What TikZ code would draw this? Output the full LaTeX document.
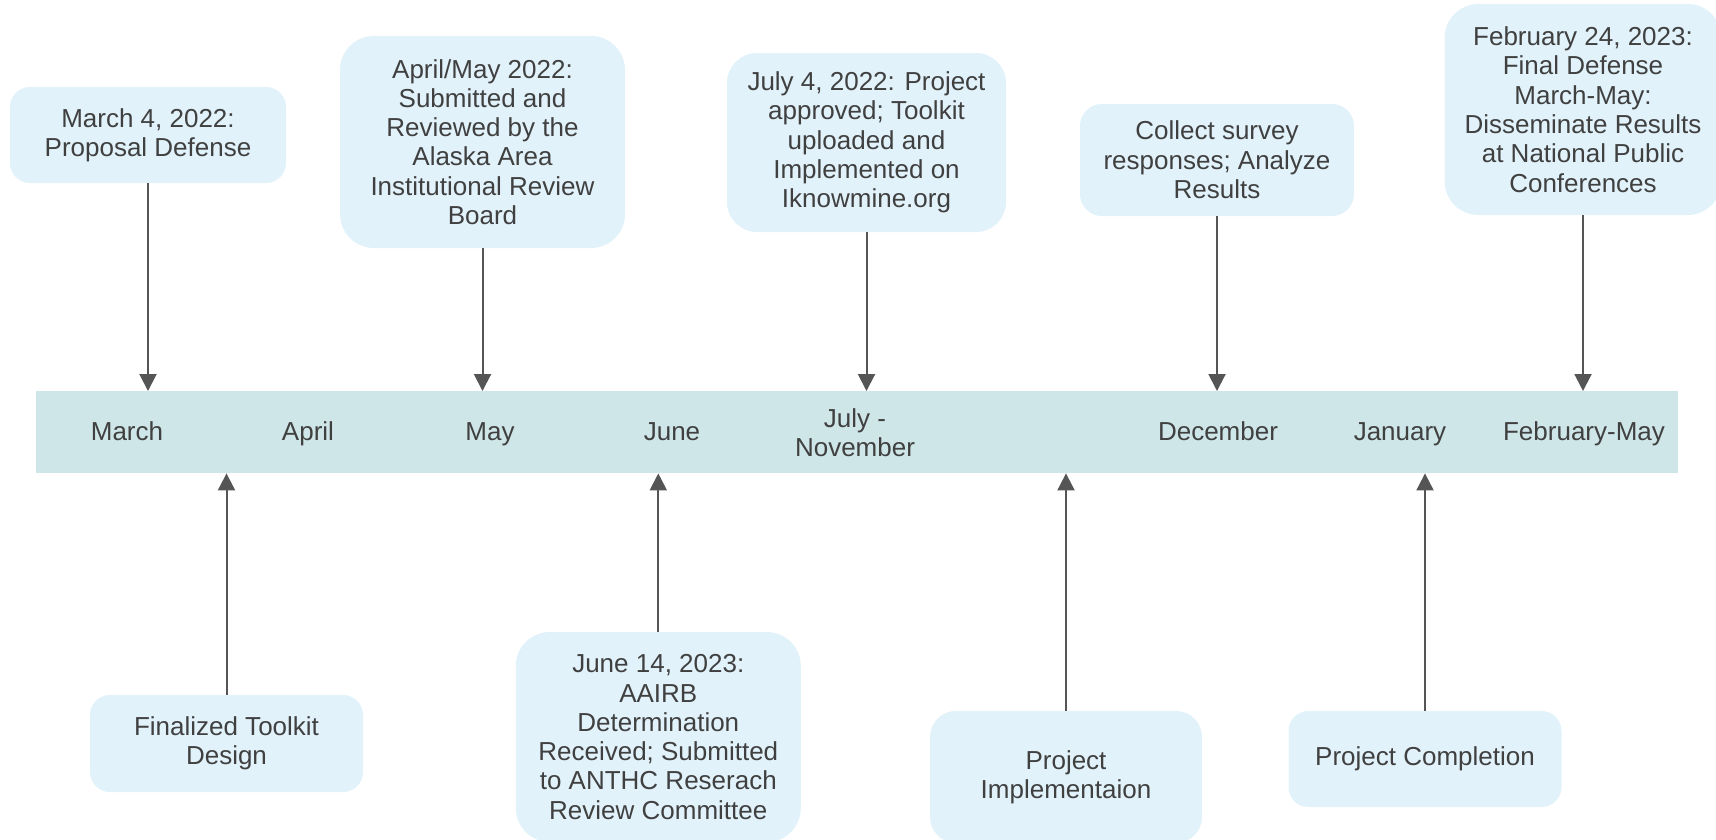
\documentclass[tikz,border=0pt]{standalone}
\usepackage{fontspec}
\setmainfont{Liberation Sans}
\usetikzlibrary{arrows.meta}
\definecolor{barfill}{RGB}{206,230,232}
\definecolor{boxfill}{RGB}{225,242,250}
\definecolor{txt}{RGB}{64,64,64}
\definecolor{arr}{RGB}{85,85,85}
\begin{document}
\begin{tikzpicture}[x=1pt,y=-1pt,
  every node/.style={text=txt,font=\fontsize{26}{29.3}\selectfont},
  evbox/.style={fill=boxfill,draw=none,align=center,inner sep=0pt},
  month/.style={align=center,inner sep=0pt,text height=19pt,text depth=6pt},
  month2/.style={align=center,inner sep=0pt},
  conn/.style={draw=arr,line width=2pt,-{Triangle[length=17pt,width=17pt]}}]
\useasboundingbox (0,0) rectangle (1716,839);
\fill[white] (0,0) rectangle (1716,839);
% timeline bar
\node[fill=barfill,minimum width=1642pt,minimum height=82pt,inner sep=0pt,anchor=north west] (bar) at (36,391) {};
% months
\node[month] (mar) at (127,434) {March};
\node[month] (apr) at (308,434) {April};
\node[month] (may) at (490,434) {May};
\node[month] (jun) at (672,434) {June};
\node[month2] (jul) at (855,433) {July -\\November};
\node[month] (dec) at (1218,434) {December};
\node[month] (jan) at (1400,434) {January};
\node[month] (feb) at (1584,434) {February-May};
% top boxes
\node[evbox,minimum width=276pt,minimum height=96pt,rounded corners=20pt] (m4) at (148,135) {March 4, 2022:\\Proposal Defense};
\node[evbox,minimum width=285pt,minimum height=212pt,rounded corners=34pt] (am) at (482.5,142) {April/May 2022:\\Submitted and\\Reviewed by the\\Alaska Area\\Institutional Review\\Board};
\node[evbox,minimum width=279pt,minimum height=179pt,rounded corners=30pt] (j4) at (866.5,142.5) {July 4, 2022: Project\\approved; Toolkit\\uploaded and\\Implemented on\\Iknowmine.org};
\node[evbox,minimum width=274pt,minimum height=112pt,rounded corners=22pt] (cs) at (1217,160) {Collect survey\\responses; Analyze\\Results};
\node[evbox,minimum width=277pt,minimum height=211pt,rounded corners=34pt] (fe) at (1583,109.5) {February 24, 2023:\\Final Defense\\March-May:\\Disseminate Results\\at National Public\\Conferences};
% bottom boxes
\node[evbox,minimum width=273pt,minimum height=97pt,rounded corners=20pt] (ft) at (226.5,743.5) {Finalized Toolkit\\Design};
\node[evbox,minimum width=285pt,minimum height=210pt,rounded corners=34pt] (jn) at (658.3,737) {June 14, 2023:\\AAIRB\\Determination\\Received; Submitted\\to ANTHC Reserach\\Review Committee};
\node[evbox,minimum width=272pt,minimum height=132pt,rounded corners=26pt] (pi) at (1066,777) {Project\\Implementaion};
\node[evbox,minimum width=273pt,minimum height=96pt,rounded corners=20pt] (pc) at (1425,759) {Project Completion};
% connectors
\foreach \b in {m4,am,j4,cs,fe}{
  \draw[conn] (\b.south) -- (\b.south |- bar.north);
}
\foreach \b in {ft,jn,pi,pc}{
  \draw[conn] (\b.north) -- (\b.north |- bar.south);
}
\end{tikzpicture}
\end{document}
